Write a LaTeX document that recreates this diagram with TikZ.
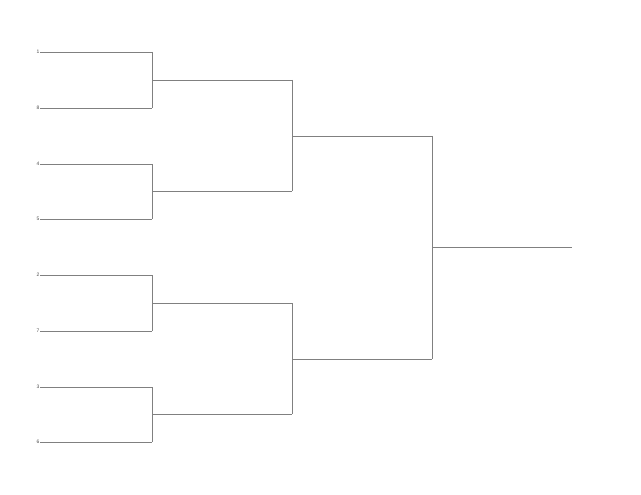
\documentclass[tikz,border=0pt]{standalone}
\usepackage{fontspec}
\setmainfont{Liberation Sans}
\begin{document}
\begin{tikzpicture}[x=1bp,y=-1bp,
  bline/.style={draw=black!50, line width=0.9bp},
  seed/.style={font=\fontsize{5}{5}\selectfont, text=black!70, inner sep=0.3bp, anchor=east}]
\useasboundingbox (0,0) rectangle (641,495);
% seeds
\foreach \s/\y [count=\i] in {1/52,8/108,4/164,5/219,2/275,7/331,3/387,6/442}{
  \node[seed] (s\i) at (40,\y) {\s};
}
% round 1 endpoints
\foreach \y [count=\i] in {52,108,164,219,275,331,387,442}{
  \coordinate (a\i) at (152,\y);
}
\foreach \y [count=\i] in {80,191,303,414}{
  \coordinate (b\i) at (152,\y);
  \coordinate (be\i) at (292,\y);
}
\foreach \y [count=\i] in {136,359}{
  \coordinate (c\i) at (292,\y);
  \coordinate (ce\i) at (432,\y);
}
\coordinate (d) at (432,247);
\coordinate (de) at (572,247);
% round 1 lines
\foreach \i in {1,...,8}{ \draw[bline] (s\i.east) -- (a\i); }
\foreach \i/\j/\k in {1/1/2,2/3/4,3/5/6,4/7/8}{
  \draw[bline] (a\j) -- (a\k);
  \draw[bline] (b\i) -- (be\i);
}
\draw[bline] (be1) -- (be2);
\draw[bline] (be3) -- (be4);
\draw[bline] (c1) -- (ce1);
\draw[bline] (c2) -- (ce2);
\draw[bline] (ce1) -- (ce2);
\draw[bline] (d) -- (de);
\end{tikzpicture}
\end{document}
